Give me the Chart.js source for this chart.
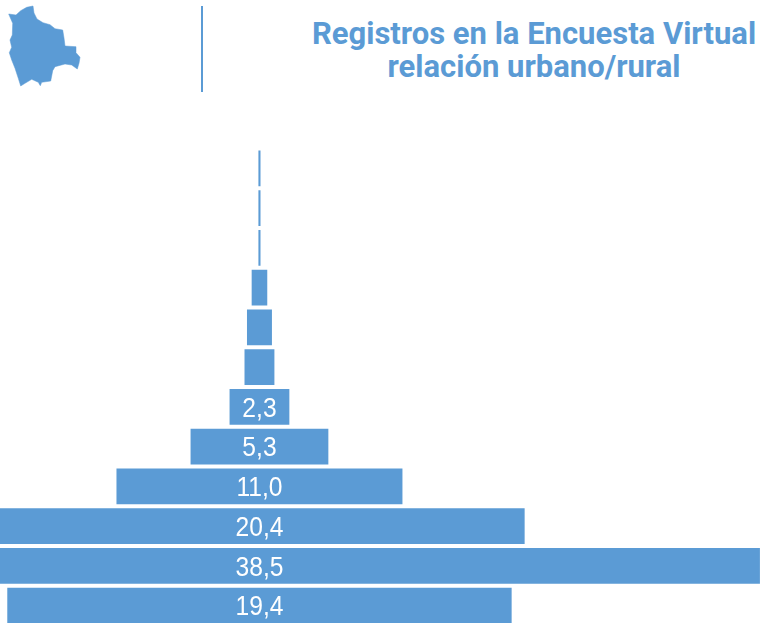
<!DOCTYPE html>
<html lang="es">
<head>
<meta charset="utf-8">
<title>Registros en la Encuesta Virtual</title>
<script src="https://cdn.jsdelivr.net/npm/chart.js@4"></script>
<style>
    html, body { margin: 0; padding: 0; width: 762px; height: 623px; overflow: hidden; background: #fff; }
    #mapa { position: absolute; left: 0; top: 0; }
    #separador { position: absolute; left: 201px; top: 6px; width: 2px; height: 86px; background: #5b9bd5; }
    #titulo {
        position: absolute; left: 284px; top: 17px; width: 500px; text-align: center;
        font: 700 31px/33px Roboto, sans-serif; color: #5b9bd5;
    }
    #contenedor { position: absolute; left: 0; top: 0; width: 762px; height: 630px; }
</style>
</head>
<body>
<svg id="mapa" width="90" height="95" viewBox="0 0 90 95">
    <polygon fill="#5b9bd5" stroke="#5b9bd5" stroke-width="0.5" stroke-linejoin="round" points="8.7,14 16,15 20.7,10.7 26.7,7.3 33,6 34,13 37,19 43,22.7 50,24.7 55,28.7 62.7,30 64,38 65,46 76,46.7 76,52.7 80,57.3 79,63.3 77.3,69 71.7,65 65,64 55,66.7 52.7,70.7 50.7,81 41.7,82.3 40.3,85.7 38.3,82.3 31.7,79.3 25,83.3 20.7,86 18.3,78.3 15,68.3 11.7,60 9.3,52.7 11.7,47.3 10,40 12.3,35 12.7,23.3"/>
</svg>
<div id="separador"></div>
<div id="titulo">Registros en la Encuesta Virtual<br>relación urbano/rural</div>
<div id="contenedor"><canvas id="grafico"></canvas></div>

<script>
// Datos (de arriba hacia abajo)
const categorias = ['12', '11', '10', '9', '8', '7', '6', '5', '4', '3', '2', '1'];
const valores = [0.08, 0.08, 0.08, 0.6, 0.96, 1.15, 2.3, 5.3, 11.0, 20.4, 38.5, 19.4];
const etiquetas = ['', '', '', '', '', '', '2,3', '5,3', '11,0', '20,4', '38,5', '19,4'];

const azul = '#5b9bd5';

// Cada barra queda centrada en cero
const barras = valores.map(v => [-v / 2, v / 2]);

// Plugin para escribir las etiquetas dentro de las barras
const etiquetasPlugin = {
    id: 'etiquetasPlugin',
    afterDatasetsDraw(chart) {
        const ctx = chart.ctx;
        const meta = chart.getDatasetMeta(0);
        ctx.save();
        ctx.fillStyle = '#ffffff';
        ctx.font = '28px "Liberation Sans", sans-serif';
        ctx.textAlign = 'center';
        ctx.textBaseline = 'middle';
        meta.data.forEach((barra, i) => {
            if (etiquetas[i]) {
                // Letra mas angosta, como en el original
                ctx.save();
                ctx.translate(chart.scales.x.getPixelForValue(0), barra.y + 2);
                ctx.scale(0.88, 1);
                ctx.fillText(etiquetas[i], 0, 0);
                ctx.restore();
            }
        });
        ctx.restore();
    }
};

new Chart(document.getElementById('grafico'), {
    type: 'bar',
    data: {
        labels: categorias,
        datasets: [{
            data: barras,
            backgroundColor: azul,
            borderWidth: 0,
            categoryPercentage: 1,
            barPercentage: 0.9
        }]
    },
    options: {
        indexAxis: 'y',
        responsive: true,
        maintainAspectRatio: false,
        animation: false,
        layout: { padding: { top: 148.6, bottom: 4.6, left: 0, right: 0 } },
        plugins: {
            legend: { display: false },
            tooltip: { enabled: false }
        },
        scales: {
            x: { display: false, min: -9.98, max: 19.33 },
            y: { display: false }
        }
    },
    plugins: [etiquetasPlugin]
});
</script>
</body>
</html>
